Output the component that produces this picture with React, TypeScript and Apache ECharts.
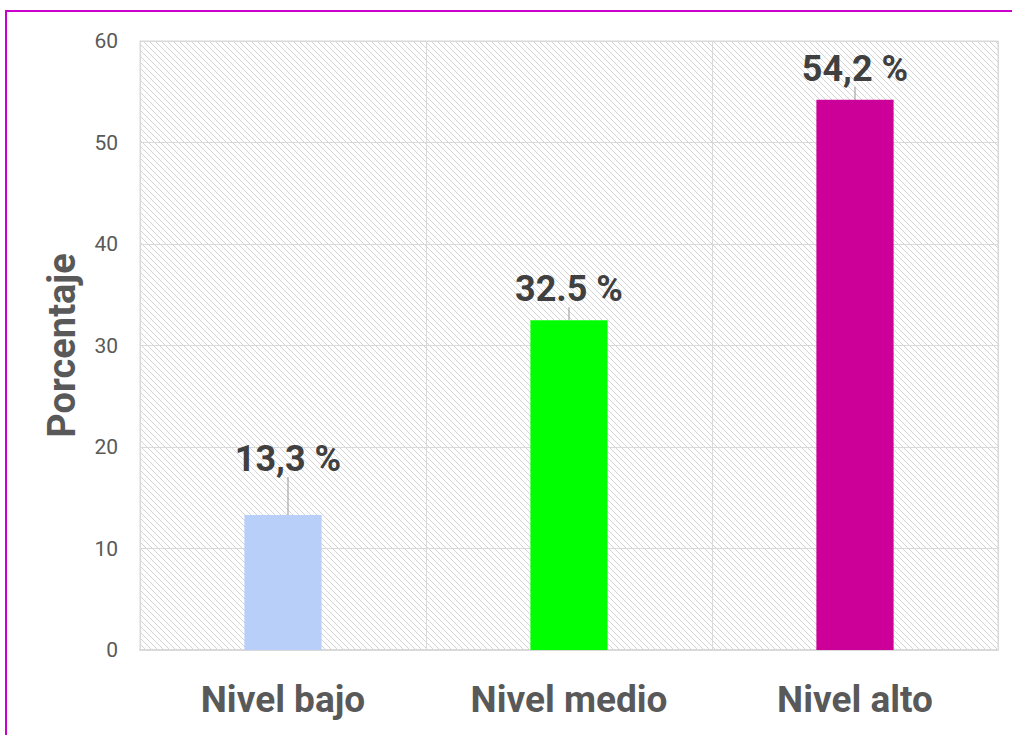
import React, { useEffect, useRef } from "react";
import * as echarts from "echarts";

const categories = ["Nivel bajo", "Nivel medio", "Nivel alto"];
const values = [13.3, 32.5, 54.2];
const valueLabels = ["13,3 %", "32.5 %", "54,2 %"];
const barColors = ["#b8cffa", "#00ff00", "#cc0099"];
const yTicks = { min: 0, max: 60, interval: 10 };

const FONT = "'Liberation Sans Narrow', 'Arial Narrow', Roboto, sans-serif";

function makeHatch(): HTMLCanvasElement {
  const c = document.createElement("canvas");
  const s = 6;
  c.width = s;
  c.height = s;
  const ctx = c.getContext("2d")!;
  ctx.fillStyle = "#ffffff";
  ctx.fillRect(0, 0, s, s);
  ctx.strokeStyle = "#d4d4d4";
  ctx.lineWidth = 1;
  ctx.beginPath();
  ctx.moveTo(-1, -1);
  ctx.lineTo(s + 1, s + 1);
  ctx.moveTo(-1, s - 1);
  ctx.lineTo(1, s + 1);
  ctx.moveTo(s - 1, -1);
  ctx.lineTo(s + 1, 1);
  ctx.stroke();
  return c;
}

export default function App() {
  const ref = useRef<HTMLDivElement>(null);
  useEffect(() => {
    if (!ref.current) return;
    const chart = echarts.init(ref.current, undefined, { renderer: "svg" });
    const hatch = makeHatch();
    chart.setOption({
      animation: false,
      backgroundColor: "#ffffff",
      graphic: [
        {
          type: "rect",
          shape: { x: 6, y: 11, width: 1030, height: 800 },
          style: { fill: "none", stroke: "#cc00cc", lineWidth: 2 },
          silent: true,
        },
      ],
      grid: {
        left: 140,
        right: 14,
        top: 41,
        bottom: 85,
        show: true,
        backgroundColor: { image: hatch, repeat: "repeat" },
        borderColor: "#d9d9d9",
        borderWidth: 1,
      },
      xAxis: {
        type: "category",
        data: categories,
        axisTick: { show: false },
        axisLine: { lineStyle: { color: "#d9d9d9", width: 2 } },
        splitLine: { show: true, lineStyle: { color: "#d9d9d9", width: 1 } },
        axisLabel: {
          fontFamily: FONT,
          fontSize: 37,
          fontWeight: "bold",
          color: "#595959",
          margin: 31,
        },
      },
      yAxis: {
        type: "value",
        min: yTicks.min,
        max: yTicks.max,
        interval: yTicks.interval,
        name: "Porcentaje",
        nameLocation: "middle",
        nameRotate: 90,
        nameGap: 59,
        nameTextStyle: {
          fontFamily: FONT,
          fontSize: 38,
          fontWeight: "bold",
          color: "#595959",
        },
        axisLine: { show: true, lineStyle: { color: "#d9d9d9" } },
        axisTick: { show: false },
        splitLine: { lineStyle: { color: "#d9d9d9", width: 1 } },
        axisLabel: {
          fontFamily: FONT,
          fontSize: 21,
          color: "#595959",
          margin: 22,
        },
      },
      series: [
        {
          type: "bar",
          barWidth: "27%",
          data: values.map((v, i) => ({
            value: v,
            itemStyle: { color: barColors[i] },
          })),
          label: {
            show: true,
            position: "top",
            distance: 13,
            fontFamily: FONT,
            fontSize: 36,
            fontWeight: "bold",
            color: "#404040",
            formatter: (p: any) => valueLabels[p.dataIndex],
          },
          labelLine: {
            show: true,
            lineStyle: { color: "#a6a6a6", width: 1.2 },
          },
          labelLayout: (p: any) =>
            p.dataIndex === 0 ? { dx: 5, dy: -25 } : {},
        },
      ],
    });
    return () => chart.dispose();
  }, []);
  return (
    <div
      ref={ref}
      style={{ position: "fixed", left: 0, top: 0, width: 1012, height: 735 }}
    />
  );
}
